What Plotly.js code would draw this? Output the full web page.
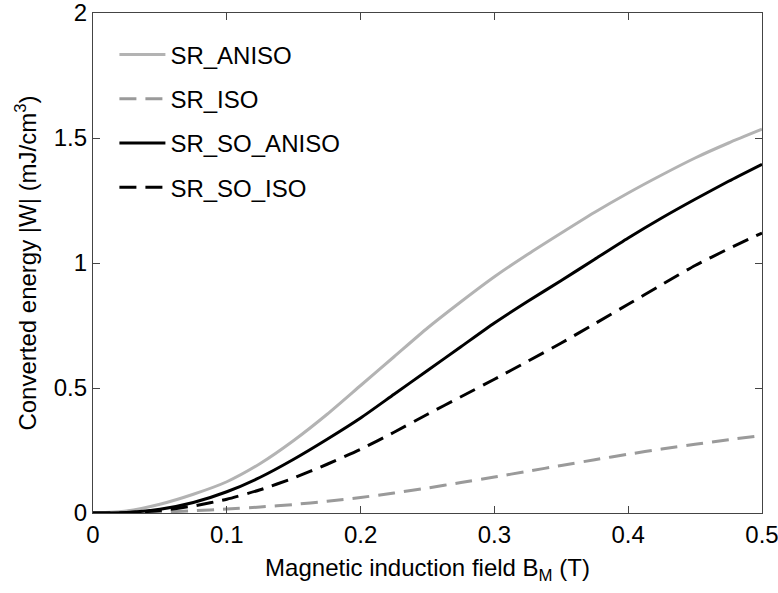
<!DOCTYPE html>
<html><head><meta charset="utf-8">
<script src="https://cdn.plot.ly/plotly-3.0.1.min.js"></script>
<style>body{margin:0;background:#fff}#chart{width:778px;height:593px}</style>
</head><body><div id="chart"></div>
<script>
const bField    = [0, 0.025, 0.05, 0.075, 0.1, 0.125, 0.15, 0.175, 0.2, 0.225, 0.25, 0.275, 0.3, 0.325, 0.35, 0.375, 0.4, 0.425, 0.45, 0.475, 0.5];
const srAniso   = [0, 0.008, 0.035, 0.075, 0.125, 0.198, 0.29, 0.395, 0.51, 0.625, 0.74, 0.845, 0.945, 1.035, 1.12, 1.203, 1.28, 1.352, 1.42, 1.48, 1.535];
const srIso     = [0, 0.001, 0.004, 0.009, 0.016, 0.024, 0.034, 0.047, 0.062, 0.08, 0.10, 0.122, 0.144, 0.167, 0.19, 0.213, 0.235, 0.256, 0.275, 0.293, 0.31];
const srSoAniso = [0, 0.002, 0.015, 0.042, 0.085, 0.143, 0.215, 0.295, 0.38, 0.475, 0.57, 0.665, 0.76, 0.847, 0.93, 1.015, 1.10, 1.18, 1.255, 1.327, 1.395];
const srSoIso   = [0, 0.001, 0.01, 0.028, 0.055, 0.093, 0.14, 0.195, 0.255, 0.323, 0.395, 0.465, 0.535, 0.607, 0.68, 0.757, 0.835, 0.913, 0.99, 1.057, 1.12];
const names = ["SR_ANISO", "SR_ISO", "SR_SO_ANISO", "SR_SO_ISO"];
const xTicks = [0, 0.1, 0.2, 0.3, 0.4, 0.5];
const xTickText = ["0", "0.1", "0.2", "0.3", "0.4", "0.5"];
const yTicks = [0, 0.5, 1, 1.5, 2];
const yTickText = ["0", "0.5", "1", "1.5", "2"];

const series = [srAniso, srIso, srSoAniso, srSoIso];
const styles = [
  {color: "#b3b3b3", dash: "solid"},
  {color: "#9a9a9a", dash: "17px,9px"},
  {color: "#000000", dash: "solid"},
  {color: "#000000", dash: "17px,9px"}
];
const traces = series.map((s, i) => ({
  x: bField, y: s, name: names[i], type: "scatter", mode: "lines",
  line: {color: styles[i].color, dash: styles[i].dash, width: 3, shape: "spline", smoothing: 0.6},
  legendgroup: "g" + i
}));

const fontFam = "Liberation Sans, Arial, sans-serif";
const axisCommon = {
  ticks: "inside", ticklen: 7, tickcolor: "#444", showline: true, linecolor: "#444", linewidth: 1.2,
  mirror: "ticks", showgrid: false, zeroline: false, ticklabeloverflow: "allow"
};
const layout = {
  width: 778, height: 593,
  margin: {l: 93, r: 16, t: 13, b: 80},
  paper_bgcolor: "#fff", plot_bgcolor: "#fff",
  font: {family: fontFam, size: 24, color: "#000"},
  showlegend: true,
  legend: {x: 0.032, y: 0.961, xanchor: "left", yanchor: "top", bgcolor: "rgba(0,0,0,0)",
           font: {family: fontFam, size: 24, color: "#000"}, tracegroupgap: 10, itemwidth: 46},
  xaxis: Object.assign({}, axisCommon, {range: [0, 0.5], tickvals: xTicks, ticktext: xTickText,
          title: {text: "Magnetic induction field B<sub>M</sub> (T)", font: {size: 24}, standoff: 12}}),
  yaxis: Object.assign({}, axisCommon, {range: [0, 2], tickvals: yTicks, ticktext: yTickText,
          title: {text: "Converted energy |W| (mJ/cm<sup>3</sup>)", font: {size: 24}, standoff: 10}})
};
Plotly.newPlot("chart", traces, layout, {displayModeBar: false, staticPlot: true});
</script></body></html>
